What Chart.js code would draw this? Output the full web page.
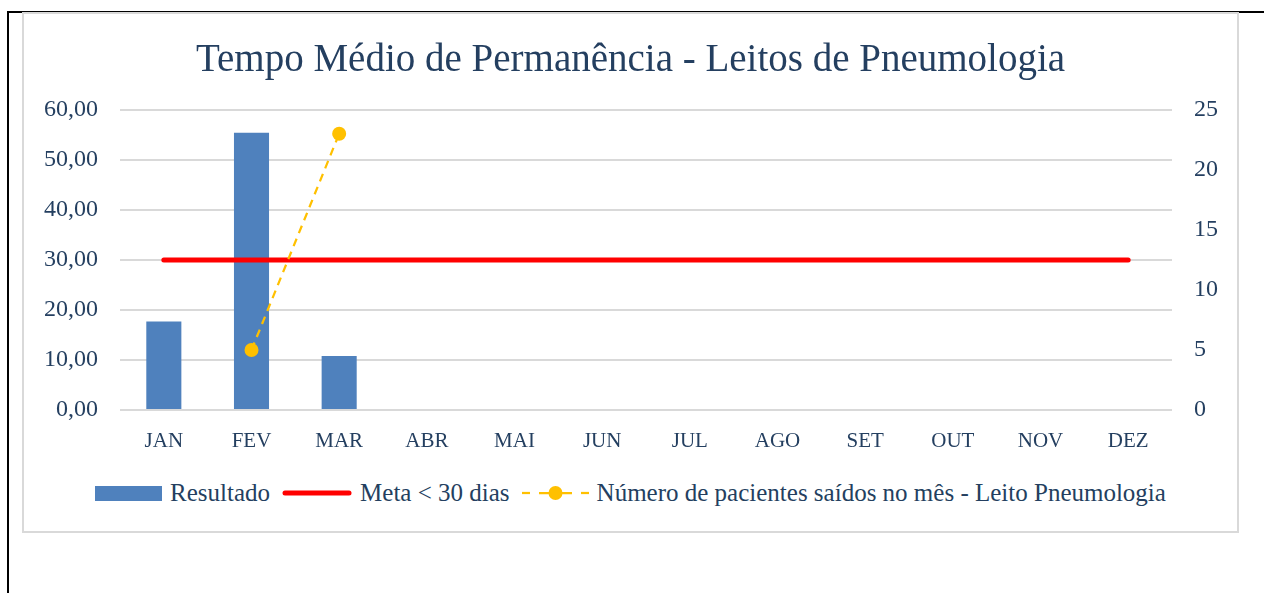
<!DOCTYPE html>
<html>
<head>
<meta charset="utf-8">
<script src="https://cdn.jsdelivr.net/npm/chart.js@4.4.1/dist/chart.umd.min.js"></script>
<style>
  body { margin: 0; background: #fff; width: 1264px; height: 593px; overflow: hidden; position: relative; font-family: "Liberation Serif", serif; color: #243F60; }
  .frame { position: absolute; left: 7px; top: 11px; width: 1270px; height: 600px; border-top: 2px solid #000; border-left: 2px solid #000; }
  .box { position: absolute; left: 22px; top: 12px; width: 1213px; height: 517px; border: 2px solid #D9D9D9; background: #fff; }
  .chart-wrap { position: absolute; left: 0; top: 0; width: 1213px; height: 460px; }
  .legend { position: absolute; left: 0; top: 465px; width: 1213px; display: flex; justify-content: center; align-items: center; font-size: 25px; white-space: nowrap; }
  .legend .item { display: flex; align-items: center; margin-right: 12px; }
  .legend .item:last-child { margin-right: 0; }
  .legend .sw { margin-right: 8px; }
</style>
</head>
<body>
<div class="frame"></div>
<div class="box">
  <div class="chart-wrap"><canvas id="grafico"></canvas></div>
  <div class="legend" id="legenda"></div>
</div>
<script>
// dados
const meses = ['JAN', 'FEV', 'MAR', 'ABR', 'MAI', 'JUN', 'JUL', 'AGO', 'SET', 'OUT', 'NOV', 'DEZ'];
const resultado = [17.7, 55.4, 10.8, null, null, null, null, null, null, null, null, null];
const meta = [30, 30, 30, 30, 30, 30, 30, 30, 30, 30, 30, 30];
const pacientesSaidos = [null, 5, 23, null, null, null, null, null, null, null, null, null];

const nomes = ['Resultado', 'Meta < 30 dias', 'Número de pacientes saídos no mês - Leito Pneumologia'];
const corTexto = '#243F60';
const fonte = '"Liberation Serif", serif';

const ctx = document.getElementById('grafico');
new Chart(ctx, {
    type: 'bar',
    data: {
        labels: meses,
        datasets: [
            {
                type: 'line',
                label: nomes[1],
                data: meta,
                borderColor: '#FF0000',
                borderWidth: 5,
                borderCapStyle: 'round',
                pointRadius: 0,
                yAxisID: 'y',
                order: 1
            },
            {
                type: 'line',
                label: nomes[2],
                data: pacientesSaidos,
                borderColor: '#FFC000',
                backgroundColor: '#FFC000',
                borderWidth: 2.25,
                borderDash: [8, 6],
                pointRadius: 7,
                pointBorderWidth: 0,
                yAxisID: 'y1',
                order: 0
            },
            {
                label: nomes[0],
                data: resultado,
                backgroundColor: '#4F81BD',
                categoryPercentage: 1,
                barPercentage: 0.4,
                yAxisID: 'y',
                order: 2
            }
        ]
    },
    options: {
        responsive: true,
        maintainAspectRatio: false,
        animation: false,
        layout: { padding: 0 },
        plugins: {
            legend: { display: false },
            tooltip: { enabled: false },
            title: {
                display: true,
                text: 'Tempo Médio de Permanência - Leitos de Pneumologia',
                color: corTexto,
                font: { family: fonte, size: 39, weight: 'normal' },
                padding: { top: 23, bottom: 26 }
            }
        },
        scales: {
            x: {
                grid: { display: false },
                border: { display: false },
                ticks: { color: corTexto, font: { family: fonte, size: 21 }, padding: 11 },
                afterFit: function(s) { s.height = 64; }
            },
            y: {
                position: 'left',
                min: 0, max: 60,
                ticks: {
                    stepSize: 10,
                    color: corTexto,
                    font: { family: fonte, size: 24 },
                    padding: 22,
                    callback: v => v.toFixed(2).replace('.', ',')
                },
                grid: { color: '#D9D9D9', lineWidth: 2, drawTicks: false },
                border: { display: false },
                afterFit: function(s) { s.width = 96; }
            },
            y1: {
                position: 'right',
                min: 0, max: 25,
                ticks: { stepSize: 5, color: corTexto, font: { family: fonte, size: 24 }, padding: 22 },
                grid: { display: false, drawTicks: false },
                border: { display: false },
                afterFit: function(s) { s.width = 65; }
            }
        }
    }
});

// legenda manual
const leg = document.getElementById('legenda');
leg.innerHTML =
    '<div class="item"><svg class="sw" width="67" height="15"><rect x="0" y="0" width="67" height="15" fill="#4F81BD"/></svg>' + nomes[0] + '</div>' +
    '<div class="item"><svg class="sw" width="70" height="14"><line x1="3" y1="7" x2="67" y2="7" stroke="#FF0000" stroke-width="5" stroke-linecap="round"/></svg>' + nomes[1] + '</div>' +
    '<div class="item"><svg class="sw" width="67" height="16">' +
        '<line x1="0" y1="8" x2="8" y2="8" stroke="#FFC000" stroke-width="2.25"/>' +
        '<line x1="17" y1="8" x2="50" y2="8" stroke="#FFC000" stroke-width="2.25"/>' +
        '<line x1="59" y1="8" x2="67" y2="8" stroke="#FFC000" stroke-width="2.25"/>' +
        '<circle cx="33.5" cy="8" r="7" fill="#FFC000"/></svg>' + nomes[2] + '</div>';
</script>
</body>
</html>
